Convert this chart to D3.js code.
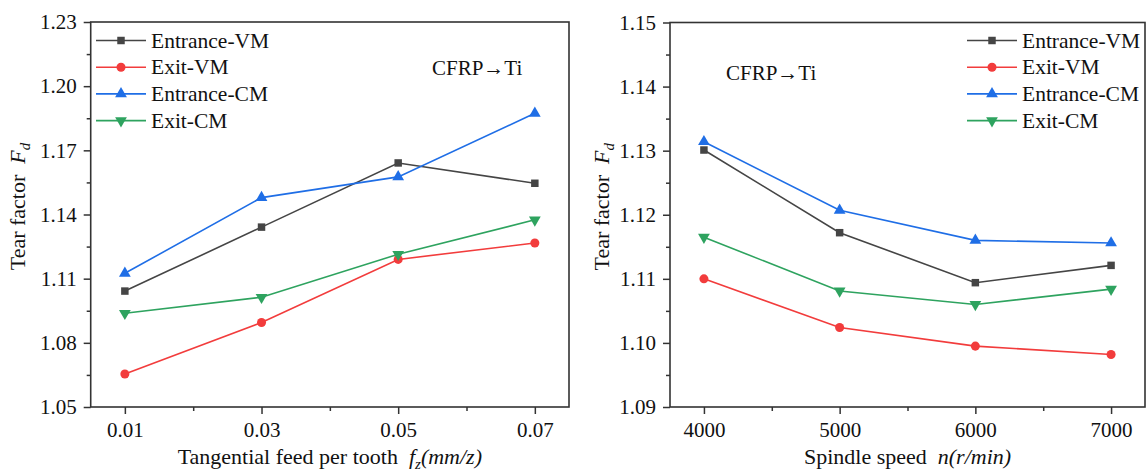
<!DOCTYPE html>
<html>
<head>
<meta charset="utf-8">
<script src="https://cdn.jsdelivr.net/npm/d3@7"></script>
<style>
  body { margin: 0; background: #fff; }
  svg text { font-family: "Liberation Serif", "Times New Roman", serif; fill: #111; white-space: pre; }
</style>
</head>
<body>
<div id="chart"></div>
<script>
// ---- data ----
const seriesNames = ['Entrance-VM', 'Exit-VM', 'Entrance-CM', 'Exit-CM'];

const feedValues = [0.01, 0.03, 0.05, 0.07];
const feedEntranceVM = [1.1042, 1.1341, 1.1641, 1.1546];
const feedExitVM = [1.0654, 1.0895, 1.1190, 1.1267];
const feedEntranceCM = [1.1125, 1.1479, 1.1576, 1.1873];
const feedExitCM = [1.0938, 1.1013, 1.1214, 1.1375];
const feedYTicks = [1.05, 1.08, 1.11, 1.14, 1.17, 1.20, 1.23];

const speedValues = [4000, 5000, 6000, 7000];
const speedEntranceVM = [1.1301, 1.1172, 1.1094, 1.1121];
const speedExitVM = [1.1100, 1.1024, 1.0995, 1.0982];
const speedEntranceCM = [1.1314, 1.1207, 1.1160, 1.1156];
const speedExitCM = [1.1165, 1.1081, 1.1060, 1.1084];
const speedYTicks = [1.09, 1.10, 1.11, 1.12, 1.13, 1.14, 1.15];

const colors = ['#454545', '#f23c3c', '#1f6ee6', '#2ea35f'];
const symbols = [d3.symbolSquare, d3.symbolCircle, d3.symbolTriangle, 'down'];

const w = 1146;
const h = 471;

const svg = d3.select('#chart')
  .append('svg')
  .attr('width', w)
  .attr('height', h);

function marker(g, type, color) {
  if (type === 'down') {
    g.append('path')
      .attr('d', d3.symbol(d3.symbolTriangle, 60)())
      .attr('transform', 'rotate(180)')
      .attr('fill', color);
  } else {
    const size = type === d3.symbolSquare ? 56 : type === d3.symbolCircle ? 64 : 60;
    g.append('path')
      .attr('d', d3.symbol(type, size)())
      .attr('fill', color);
  }
}

function drawPanel(opt) {
  const { left, right, top, bottom, xDomain, xTicks, xMinor, xFmt, yTicks, yMinor,
          series, legendX, noteX, noteY, xLabel } = opt;

  const xScale = d3.scaleLinear().domain(xDomain).range([left, right]);
  const yScale = d3.scaleLinear().domain([yTicks[0], yTicks[yTicks.length - 1]]).range([bottom, top]);

  const g = svg.append('g');

  // minor ticks
  g.append('g')
    .attr('transform', 'translate(0,' + bottom + ')')
    .call(d3.axisBottom(xScale).tickValues(xMinor).tickSize(4).tickFormat(''))
    .call(a => a.select('.domain').remove())
    .call(a => a.selectAll('line').attr('stroke', '#333').attr('stroke-width', 1.5));
  g.append('g')
    .attr('transform', 'translate(' + left + ',0)')
    .call(d3.axisLeft(yScale).tickValues(yMinor).tickSize(4).tickFormat(''))
    .call(a => a.select('.domain').remove())
    .call(a => a.selectAll('line').attr('stroke', '#333').attr('stroke-width', 1.5));

  // major axes
  g.append('g')
    .attr('transform', 'translate(0,' + bottom + ')')
    .call(d3.axisBottom(xScale).tickValues(xTicks).tickSize(7).tickPadding(8).tickFormat(xFmt))
    .call(a => a.select('.domain').remove())
    .call(a => a.selectAll('line').attr('stroke', '#333').attr('stroke-width', 1.5))
    .call(a => a.selectAll('text').attr('font-size', 21).attr('fill', '#111')
      .style('font-family', '"Liberation Serif", serif'));
  g.append('g')
    .attr('transform', 'translate(' + left + ',0)')
    .call(d3.axisLeft(yScale).tickValues(yTicks).tickSize(7).tickPadding(7).tickFormat(d3.format('.2f')))
    .call(a => a.select('.domain').remove())
    .call(a => a.selectAll('line').attr('stroke', '#333').attr('stroke-width', 1.5))
    .call(a => a.selectAll('text').attr('font-size', 21).attr('fill', '#111')
      .style('font-family', '"Liberation Serif", serif'));

  // frame
  g.append('rect')
    .attr('x', left).attr('y', top)
    .attr('width', right - left).attr('height', bottom - top)
    .attr('fill', 'none').attr('stroke', '#333').attr('stroke-width', 1.6);

  const line = d3.line().x(d => xScale(d[0])).y(d => yScale(d[1]));

  series.forEach((vals, i) => {
    const pts = opt.xVals.map((x, j) => [x, vals[j]]);
    g.append('path')
      .datum(pts)
      .attr('d', line)
      .attr('fill', 'none')
      .attr('stroke', colors[i])
      .attr('stroke-width', 1.6);
    pts.forEach(p => {
      const m = g.append('g').attr('transform', 'translate(' + xScale(p[0]) + ',' + yScale(p[1]) + ')');
      marker(m, symbols[i], colors[i]);
    });
  });

  // legend
  seriesNames.forEach((name, i) => {
    const ly = 40.5 + i * 26.7;
    const lg = g.append('g');
    lg.append('line')
      .attr('x1', legendX).attr('x2', legendX + 50)
      .attr('y1', ly).attr('y2', ly)
      .attr('stroke', colors[i]).attr('stroke-width', 1.6);
    const m = lg.append('g').attr('transform', 'translate(' + (legendX + 25) + ',' + ly + ')');
    marker(m, symbols[i], colors[i]);
    lg.append('text')
      .attr('x', legendX + 55).attr('y', ly + 7)
      .attr('font-size', 21.5)
      .text(name);
  });

  // annotation
  g.append('text')
    .attr('x', noteX).attr('y', noteY)
    .attr('font-size', 21)
    .text('CFRP\u2192Ti');

  // x label
  const xl = g.append('text')
    .attr('x', (left + right) / 2).attr('y', 464)
    .attr('text-anchor', 'middle')
    .attr('font-size', 22);
  xLabel(xl);

  // y label
  const yl = g.append('text')
    .attr('transform', 'translate(' + opt.yLabelX + ',' + ((top + bottom) / 2 - 8) + ') rotate(-90)')
    .attr('text-anchor', 'middle')
    .attr('font-size', 22);
  yl.append('tspan').text('Tear factor  ');
  yl.append('tspan').attr('font-style', 'italic').text('F');
  yl.append('tspan').attr('font-style', 'italic').attr('font-size', 15).attr('dy', 5).text('d');
}

drawPanel({
  left: 90.7, right: 569, top: 22, bottom: 407,
  xDomain: [0.005, 0.075],
  xVals: feedValues,
  xTicks: feedValues,
  xMinor: [0.02, 0.04, 0.06],
  xFmt: d3.format('.2f'),
  yTicks: feedYTicks,
  yMinor: [1.065, 1.095, 1.125, 1.155, 1.185, 1.215],
  series: [feedEntranceVM, feedExitVM, feedEntranceCM, feedExitCM],
  legendX: 96,
  noteX: 432, noteY: 75,
  yLabelX: 25,
  xLabel: t => {
    t.append('tspan').text('Tangential feed per tooth  ');
    t.append('tspan').attr('font-style', 'italic').text('f');
    t.append('tspan').attr('font-style', 'italic').attr('font-size', 15).attr('dy', 5).text('z');
    t.append('tspan').attr('font-style', 'italic').attr('dy', -5).text('(mm/z)');
  }
});

drawPanel({
  left: 670, right: 1145, top: 22.5, bottom: 407,
  xDomain: [3750, 7250],
  xVals: speedValues,
  xTicks: speedValues,
  xMinor: [4500, 5500, 6500],
  xFmt: d3.format('d'),
  yTicks: speedYTicks,
  yMinor: [1.095, 1.105, 1.115, 1.125, 1.135, 1.145],
  series: [speedEntranceVM, speedExitVM, speedEntranceCM, speedExitCM],
  legendX: 967,
  noteX: 726, noteY: 80,
  yLabelX: 609,
  xLabel: t => {
    t.append('tspan').text('Spindle speed  ');
    t.append('tspan').attr('font-style', 'italic').text('n(r/min)');
  }
});
</script>
</body>
</html>
